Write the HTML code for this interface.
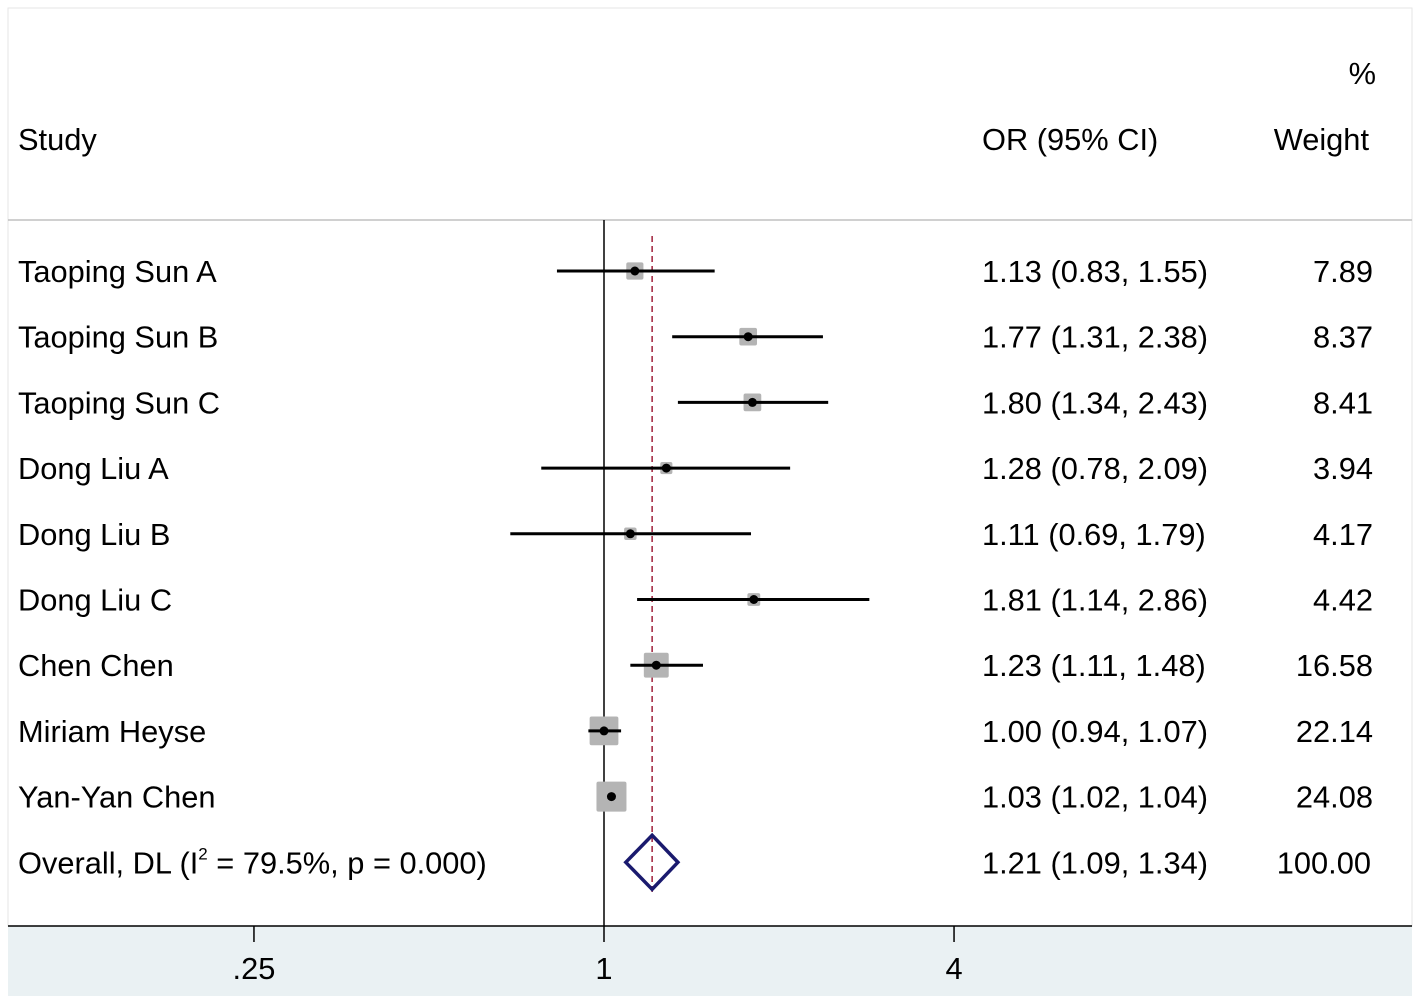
<!DOCTYPE html>
<html><head><meta charset="utf-8"><style>
html,body{margin:0;padding:0;background:#fff;}
svg text{font-family:"Liberation Sans",Arial,sans-serif;}
</style></head><body>
<svg id="chart" width="1419" height="1002" xmlns="http://www.w3.org/2000/svg">
<rect x="0" y="0" width="1419" height="1002" fill="#fff"/>
<rect x="8" y="8" width="1404" height="918" fill="#fff" stroke="#e6e6e6" stroke-width="1"/>
<rect x="8" y="926" width="1404" height="70" fill="#eaf1f3"/>
<line x1="8" y1="220" x2="1412" y2="220" stroke="#c0c0c0" stroke-width="1.5"/>
<text x="18" y="150" font-size="30.8">Study</text>
<text x="982" y="150" font-size="30.8">OR (95% CI)</text>
<text x="1376" y="84" font-size="30.8" text-anchor="end">%</text>
<text x="1369" y="150" font-size="30.8" text-anchor="end">Weight</text>
<g id="marks"></g>
</svg>
<script>
const studies=["Taoping Sun A","Taoping Sun B","Taoping Sun C","Dong Liu A","Dong Liu B","Dong Liu C","Chen Chen","Miriam Heyse","Yan-Yan Chen"];
const orValues=[1.13,1.77,1.80,1.28,1.11,1.81,1.23,1.00,1.03];
const lowerCI=[0.83,1.31,1.34,0.78,0.69,1.14,1.11,0.94,1.02];
const upperCI=[1.55,2.38,2.43,2.09,1.79,2.86,1.48,1.07,1.04];
const weights=[7.89,8.37,8.41,3.94,4.17,4.42,16.58,22.14,24.08];
const overall={label:"Overall, DL",or:1.21,lo:1.09,hi:1.34,weight:"100.00"};
const tickValues=[0.25,1,4];
const tickLabels=[".25","1","4"];

const NS="http://www.w3.org/2000/svg";
const FS=30.8;
const g=document.getElementById('marks');
const X=v=>604+252.5*Math.log(v);
const rowY=i=>271+65.7*i;
function mk(tag,attrs,parent){const e=document.createElementNS(NS,tag);for(const k in attrs)e.setAttribute(k,attrs[k]);(parent||g).appendChild(e);return e;}
const f2=v=>v.toFixed(2);

const yEnd=rowY(studies.length)+30;
let e=mk('line',{x1:X(1),y1:220,x2:X(1),y2:926,stroke:'#000','stroke-width':1.5});

e=mk('line',{x1:X(overall.or),y1:236,x2:X(overall.or),y2:yEnd,stroke:'#a0203a','stroke-width':1.5,'stroke-dasharray':'6,4'});


studies.forEach((s,i)=>{
  const y=rowY(i);
  const side=30*Math.sqrt(weights[i]/24.08);
  let b=mk('rect',{x:X(orValues[i])-side/2,y:y-side/2,width:side,height:side,fill:'#b4b4b4',rx:2});
  
  let l=mk('line',{x1:X(lowerCI[i]),y1:y,x2:X(upperCI[i]),y2:y,stroke:'#000','stroke-width':3});
  
  let c=mk('circle',{cx:X(orValues[i]),cy:y,r:4.5,fill:'#000'});
  
  let t=mk('text',{x:18,y:y+11,'font-size':FS});t.textContent=s;
  
  t=mk('text',{x:982,y:y+11,'font-size':FS});t.textContent=f2(orValues[i])+" ("+f2(lowerCI[i])+", "+f2(upperCI[i])+")";
  
  t=mk('text',{x:1373,y:y+11,'font-size':FS,'text-anchor':'end'});t.textContent=f2(weights[i]);
  
});

const oy=rowY(studies.length);
let d=mk('polygon',{points:`${X(overall.lo)},${oy} ${X(overall.or)},${oy-27} ${X(overall.hi)},${oy} ${X(overall.or)},${oy+27}`,fill:'none',stroke:'#1a1a6e','stroke-width':3.5});

let ot=mk('text',{x:18,y:oy+11,'font-size':FS});

ot.innerHTML='Overall, DL (I<tspan dy="-14" font-size="17">2</tspan><tspan dy="14"> = 79.5%, p = 0.000)</tspan>';
let ov=mk('text',{x:982,y:oy+11,'font-size':FS});ov.textContent=f2(overall.or)+" ("+f2(overall.lo)+", "+f2(overall.hi)+")";

let ow=mk('text',{x:1371,y:oy+11,'font-size':FS,'text-anchor':'end'});ow.textContent=overall.weight;


let ax=mk('line',{x1:8,y1:926,x2:1412,y2:926,stroke:'#000','stroke-width':1.5});

tickValues.forEach((v,i)=>{
  let tk=mk('line',{x1:X(v),y1:926,x2:X(v),y2:942,stroke:'#000','stroke-width':1.5});
  
  let tl=mk('text',{x:X(v),y:979,'font-size':FS,'text-anchor':'middle'});tl.textContent=tickLabels[i];
  
});
</script>
</body></html>
